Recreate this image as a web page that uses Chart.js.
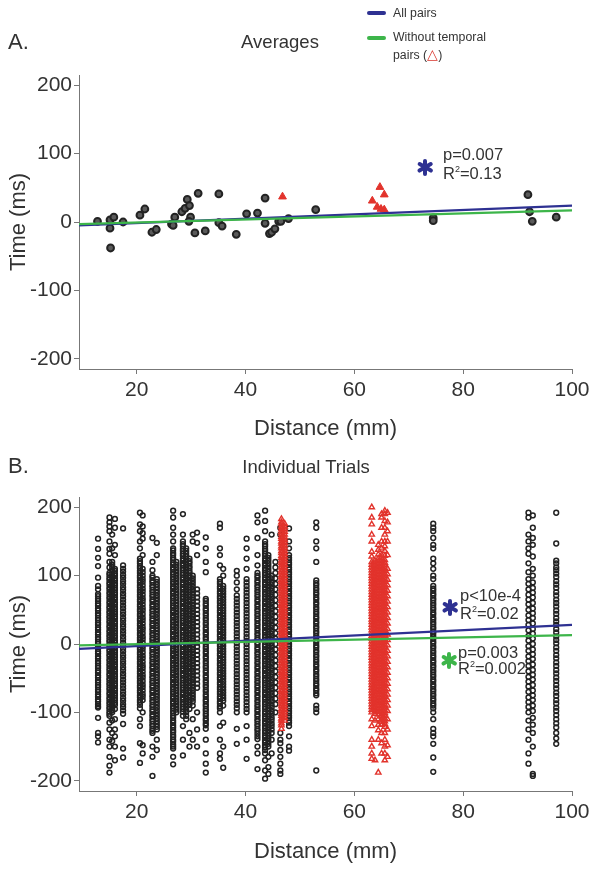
<!DOCTYPE html>
<html><head><meta charset="utf-8">
<script src="https://cdn.jsdelivr.net/npm/chart.js@4.4.0/dist/chart.umd.min.js"></script>
<style>
html,body{margin:0;padding:0;background:#fff;}
body{width:602px;height:870px;position:relative;overflow:hidden;font-family:'Liberation Sans',Arial,Helvetica,sans-serif;color:#333;}
canvas{position:absolute;left:0;}
.t{position:absolute;white-space:nowrap;line-height:1;}
.c{transform:translate(-50%,-50%);}
.l{transform:translateY(-50%);}
.ast{position:absolute;width:0;height:0;}
.ast i{position:absolute;left:-2.2px;top:-8.5px;width:4.4px;height:17px;border-radius:2px;}
.bar{position:absolute;height:4px;border-radius:2px;width:19px;}
sup{font-size:0.55em;vertical-align:0.7em;line-height:0;}
</style></head><body>
<canvas id="ca" width="602" height="450" style="top:0"></canvas>
<canvas id="cb" width="602" height="420" style="top:450px"></canvas>

<div class="t l" style="left:8px;top:42px;font-size:22px;">A.</div>
<div class="t c" style="left:280px;top:42px;font-size:18.5px;">Averages</div>
<div class="bar" style="left:367px;top:11px;background:#2e3192"></div>
<div class="bar" style="left:367px;top:36px;background:#3db54a"></div>
<div class="t l" style="left:393px;top:13px;font-size:12.3px;">All pairs</div>
<div class="t l" style="left:393px;top:37px;font-size:12.3px;">Without temporal</div>
<div class="t l" style="left:393px;top:54px;font-size:12.3px;">pairs (<span style="color:#d8342c;font-size:14px">△</span>)</div>

<div class="ast" style="left:425px;top:167px"><i style="background:#2e3192"></i><i style="background:#2e3192;transform:rotate(60deg)"></i><i style="background:#2e3192;transform:rotate(120deg)"></i></div>
<div class="t l" style="left:443px;top:154px;font-size:16.5px;">p=0.007</div>
<div class="t l" style="left:443px;top:173px;font-size:16.5px;">R<sup>2</sup>=0.13</div>

<div class="t l" style="left:8px;top:466px;font-size:22px;">B.</div>
<div class="t c" style="left:306px;top:467px;font-size:18.5px;">Individual Trials</div>

<div class="ast" style="left:450px;top:607px"><i style="background:#2e3192"></i><i style="background:#2e3192;transform:rotate(60deg)"></i><i style="background:#2e3192;transform:rotate(120deg)"></i></div>
<div class="t l" style="left:460px;top:595px;font-size:16.5px;">p&lt;10e-4</div>
<div class="t l" style="left:460px;top:613px;font-size:16.5px;">R<sup>2</sup>=0.02</div>
<div class="ast" style="left:449px;top:660px"><i style="background:#3db54a"></i><i style="background:#3db54a;transform:rotate(60deg)"></i><i style="background:#3db54a;transform:rotate(120deg)"></i></div>
<div class="t l" style="left:458px;top:652px;font-size:16.5px;">p=0.003</div>
<div class="t l" style="left:458px;top:668px;font-size:16.5px;">R<sup>2</sup>=0.002</div>

<script>
// ---------- axes ----------
const xTicks = [20, 40, 60, 80, 100];
const yTicks = [-200, -100, 0, 100, 200];

// ---------- Panel A: averages ----------
const avgDist = [12.8,15.1,15.1,15.8,15.2,17.5,20.6,21.5,22.8,23.6,26.4,26.7,27.0,28.3,28.9,29.3,29.7,29.9,29.6,30.7,31.3,32.6,35.1,35.1,35.7,38.3,40.2,42.2,43.6,43.6,44.4,44.8,45.4,46.1,46.5,47.9,52.9,74.5,74.5,91.9,92.2,92.7,97.1];
const avgTime = [1,3,-9,7,-38,0,10,19,-15,-11,-3,-5,7,15,20,33,24,7,1,-16,42,-13,41,-1,-6,-18,12,13,35,-2,-17,-15,-10,1,1,5,18,6,2,40,15,1,7];
const avgTempDist = [46.8,63.3,64.2,64.7,64.9,65.5,65.5];
const avgTempTime = [37,31,22,51,19,40,18];

// regression lines (end points)
const fitDist = [9.4, 100];
const fitAllA = [-5, 24];
const fitNoTempA = [-3, 17];
const fitAllB = [-7, 28];
const fitNoTempB = [-2, 13];

// ---------- Panel B: individual trials (one column of trials per electrode-pair distance) ----------
const trialColDist = [12.9,15.0,15.5,16.0,17.5,20.6,21.1,22.9,23.7,26.7,27.3,28.5,29.1,29.7,30.3,31.1,32.7,35.3,35.9,38.4,40.2,42.2,43.6,44.2,44.8,45.5,46.4,48.0,53.0,74.5,92.0,92.8,97.1];
const trialColTimes = [
 [154,139,126,114,97,85,80,73,70,66,63,59,56,52,49,45,42,38,35,31,28,24,21,17,14,10,7,3,0,-4,-7,-11,-14,-18,-21,-25,-28,-32,-35,-39,-42,-46,-49,-53,-56,-60,-63,-67,-70,-74,-77,-81,-84,-88,-91,-93,-108,-130,-135,-144],
 [185,178,172,165,150,139,132,120,112,104,101,97,94,90,87,83,80,76,73,69,66,62,59,55,52,48,45,41,38,34,31,27,24,20,17,13,10,6,3,-1,-4,-8,-11,-15,-18,-22,-25,-29,-32,-36,-39,-43,-46,-50,-53,-57,-60,-64,-67,-71,-74,-78,-81,-85,-88,-92,-95,-99,-102,-105,-115,-125,-140,-150,-165,-178,-188],
 [160,140,120,116,112,108,102,99,95,92,88,85,81,78,74,71,67,64,60,57,53,50,46,43,39,36,32,29,25,22,18,15,11,8,4,1,-3,-6,-10,-13,-17,-20,-24,-27,-31,-34,-38,-41,-45,-48,-52,-55,-59,-62,-66,-69,-73,-76,-80,-83,-87,-90,-94,-97,-100,-112,-130,-142],
 [183,170,145,130,110,107,103,100,96,93,89,86,82,79,75,72,68,65,61,58,54,51,47,44,40,37,33,30,26,23,19,16,12,9,5,2,-2,-5,-9,-12,-16,-19,-23,-26,-30,-33,-37,-40,-44,-47,-51,-54,-58,-61,-65,-68,-72,-75,-79,-82,-86,-89,-95,-110,-125,-135,-150,-170],
 [169,115,110,106,101,97,92,88,83,79,74,70,65,61,56,52,47,43,38,34,29,25,20,16,11,7,2,-2,-7,-11,-16,-20,-25,-29,-34,-38,-43,-47,-52,-56,-61,-65,-70,-74,-79,-83,-88,-92,-97,-102,-117,-153,-166],
 [192,175,165,150,140,125,121,118,114,111,107,104,100,97,93,90,86,83,79,76,72,69,65,62,58,55,51,48,44,41,37,34,30,27,23,20,16,13,9,6,2,-1,-5,-8,-12,-15,-19,-22,-26,-29,-33,-36,-40,-43,-47,-50,-54,-57,-61,-64,-68,-71,-75,-78,-82,-85,-89,-94,-110,-120,-145,-174],
 [188,172,162,154,130,110,105,100,95,91,86,81,77,72,67,63,58,53,49,44,39,35,30,25,21,16,11,7,2,-3,-7,-12,-17,-21,-26,-31,-35,-40,-45,-49,-54,-59,-63,-68,-73,-77,-82,-100,-148,-160],
 [155,120,108,100,97,93,90,86,83,79,76,72,69,65,62,58,55,51,48,44,41,37,34,30,27,23,20,16,13,9,6,2,-1,-5,-8,-12,-15,-19,-22,-26,-29,-33,-36,-40,-43,-47,-50,-54,-57,-61,-64,-68,-71,-75,-78,-82,-85,-89,-92,-96,-99,-103,-106,-110,-113,-117,-120,-124,-127,-130,-150,-165,-193],
 [148,130,95,91,87,83,79,75,71,67,63,59,55,51,47,43,39,35,31,27,23,19,15,11,7,3,-1,-5,-9,-13,-17,-21,-25,-29,-33,-37,-41,-45,-49,-53,-57,-61,-65,-69,-73,-77,-81,-85,-89,-93,-97,-101,-105,-109,-113,-117,-121,-125,-140,-155],
 [195,185,170,160,150,140,137,133,130,126,123,119,116,112,109,105,102,98,95,91,88,84,81,77,74,70,67,63,60,56,53,49,46,42,39,35,32,28,25,21,18,14,11,7,4,0,-3,-7,-10,-14,-17,-21,-24,-28,-31,-35,-38,-42,-45,-49,-52,-56,-59,-63,-66,-70,-73,-77,-80,-84,-87,-91,-94,-98,-101,-105,-108,-112,-115,-119,-122,-126,-129,-133,-136,-140,-143,-147,-150,-153,-165,-176],
 [120,116,112,108,104,100,96,92,88,84,80,76,72,68,64,60,56,52,48,44,40,36,32,28,24,20,16,12,8,4,0,-4,-8,-12,-16,-20,-24,-28,-32,-36,-40,-44,-48,-52,-56,-60,-64,-68,-72,-76,-80,-84,-88,-92,-96,-100],
 [190,160,150,146,143,139,136,132,129,125,122,118,115,111,108,104,101,97,94,90,87,83,80,76,73,69,66,62,59,55,52,48,45,41,38,34,31,27,24,20,17,13,10,6,3,-1,-4,-8,-11,-15,-18,-22,-25,-29,-32,-36,-39,-43,-46,-50,-53,-57,-60,-64,-67,-71,-74,-78,-81,-85,-88,-92,-95,-99,-105,-120,-140,-163],
 [140,136,132,128,124,120,116,112,108,104,100,96,92,88,84,80,76,72,68,64,60,56,52,48,44,40,36,32,28,24,20,16,12,8,4,0,-4,-8,-12,-16,-20,-24,-28,-32,-36,-40,-44,-48,-52,-56,-60,-64,-68,-72,-76,-80,-84,-88,-92,-96,-100,-105,-110],
 [125,121,118,114,111,107,104,100,97,93,90,86,83,79,76,72,69,65,62,58,55,51,48,44,41,37,34,30,27,23,20,16,13,9,6,2,-1,-5,-8,-12,-15,-19,-22,-26,-29,-33,-36,-40,-43,-47,-50,-54,-57,-61,-64,-68,-71,-75,-78,-82,-85,-89,-95,-130,-150],
 [160,150,100,96,92,88,84,80,76,72,68,64,60,56,52,48,44,40,36,32,28,24,20,16,12,8,4,0,-4,-8,-12,-16,-20,-24,-28,-32,-36,-40,-44,-48,-52,-56,-60,-64,-68,-72,-76,-80,-84,-90,-110,-140],
 [163,148,130,80,74,68,62,56,50,44,38,32,26,20,14,8,2,-4,-10,-16,-22,-28,-34,-40,-46,-52,-58,-64,-100,-125,-150],
 [156,140,120,105,66,63,59,56,52,49,45,42,38,35,31,28,24,21,17,14,10,7,3,0,-4,-7,-11,-14,-18,-21,-25,-28,-32,-35,-39,-42,-46,-49,-53,-56,-60,-63,-67,-70,-74,-77,-81,-84,-88,-91,-95,-98,-102,-105,-109,-112,-116,-119,-124,-140,-160,-175,-188],
 [176,170,140,130,115,95,91,88,84,81,77,74,70,67,63,60,56,53,49,46,42,39,35,32,28,25,21,18,14,11,7,4,0,-3,-7,-10,-14,-17,-21,-24,-28,-31,-35,-38,-42,-45,-49,-52,-56,-59,-63,-66,-70,-73,-77,-80,-84,-87,-91,-94,-100,-120,-140,-160,-168],
 [110,100,85,81,77,73,69,65,61,57,53,49,45,41,37,33,29,25,21,17,13,9,5,1,-3,-7,-11,-15,-19,-23,-27,-31,-35,-39,-43,-47,-51,-55,-59,-63,-67,-71,-75,-79,-83,-90,-115,-150,-181],
 [107,100,90,80,71,66,61,56,51,46,41,36,31,26,21,16,11,6,1,-4,-9,-14,-19,-24,-29,-34,-39,-44,-49,-54,-59,-64,-69,-74,-79,-84,-89,-94,-100,-124,-146],
 [154,140,125,110,95,90,85,80,75,70,65,60,55,50,45,40,35,30,25,20,15,10,5,0,-5,-10,-15,-20,-25,-30,-35,-40,-45,-50,-55,-60,-65,-70,-75,-80,-85,-90,-95,-100,-120,-140,-168],
 [188,178,155,130,115,104,100,97,93,90,86,83,79,76,72,69,65,62,58,55,51,48,44,41,37,34,30,27,23,20,16,13,9,6,2,-1,-5,-8,-12,-15,-19,-22,-26,-29,-33,-36,-40,-43,-47,-50,-54,-57,-61,-64,-68,-71,-75,-78,-82,-85,-89,-92,-96,-99,-103,-106,-110,-113,-117,-120,-124,-127,-131,-135,-139,-150,-160,-183],
 [195,180,165,150,146,143,139,136,132,129,125,122,118,115,111,108,104,101,97,94,90,87,83,80,76,73,69,66,62,59,55,52,48,45,41,38,34,31,27,24,20,17,13,10,6,3,-1,-4,-8,-11,-15,-18,-22,-25,-29,-32,-36,-39,-43,-46,-50,-53,-57,-60,-64,-67,-71,-74,-78,-81,-85,-88,-92,-95,-99,-102,-106,-109,-113,-116,-120,-123,-127,-130,-134,-137,-141,-144,-148,-151,-155,-160,-170,-185,-197],
 [130,126,122,118,114,110,106,102,98,94,90,86,82,78,74,70,66,62,58,54,50,46,42,38,34,30,26,22,18,14,10,6,2,-2,-6,-10,-14,-18,-22,-26,-30,-34,-38,-42,-46,-50,-54,-58,-62,-66,-70,-74,-78,-82,-86,-90,-94,-98,-102,-106,-110,-114,-118,-122,-126,-130,-134,-138,-142,-146,-150,-165,-180,-190],
 [160,100,96,91,87,82,78,73,69,64,60,55,51,46,42,37,33,28,24,19,15,10,6,1,-3,-8,-12,-17,-21,-26,-30,-35,-39,-44,-48,-53,-57,-62,-66,-71,-75,-80,-84,-89,-93,-98,-102,-107,-111,-116,-120,-125,-130,-140,-160],
 [120,112,104,96,88,80,72,64,56,48,40,32,24,16,8,0,-8,-16,-24,-32,-40,-48,-56,-64,-72,-80,-88,-100],
 [170,160,-130,-140,-145,-155,-165,-175,-185,-190],
 [169,150,140,130,126,123,119,116,112,109,105,102,98,95,91,88,84,81,77,74,70,67,63,60,56,53,49,46,42,39,35,32,28,25,21,18,14,11,7,4,0,-3,-7,-10,-14,-17,-21,-24,-28,-31,-35,-38,-42,-45,-49,-52,-56,-59,-63,-66,-70,-73,-77,-80,-84,-87,-91,-94,-98,-101,-105,-108,-112,-115,-120,-135,-150,-156],
 [178,170,150,140,120,93,89,86,82,79,75,72,68,65,61,58,54,51,47,44,40,37,33,30,26,23,19,16,12,9,5,2,-2,-5,-9,-12,-16,-19,-23,-26,-30,-33,-37,-40,-44,-47,-51,-54,-58,-61,-65,-68,-72,-75,-90,-95,-100,-185],
 [176,170,165,155,145,140,125,118,110,100,95,85,81,78,74,71,67,64,60,57,53,50,46,43,39,36,32,29,25,22,18,15,11,8,4,1,-3,-6,-10,-13,-17,-20,-24,-27,-31,-34,-38,-41,-45,-48,-52,-55,-59,-62,-66,-69,-73,-76,-80,-83,-87,-90,-94,-100,-110,-124,-130,-135,-146,-166,-187],
 [192,185,160,150,140,132,118,105,95,88,80,72,65,58,50,42,35,28,20,12,5,-3,-10,-18,-25,-32,-40,-48,-55,-62,-70,-78,-85,-92,-100,-112,-125,-140,-160,-175],
 [188,170,155,145,128,110,100,90,82,75,68,60,52,45,38,30,22,15,8,0,-8,-15,-22,-30,-38,-45,-52,-60,-68,-75,-82,-90,-98,-108,-118,-130,-150,-190,-193],
 [192,147,122,118,112,108,103,98,92,87,82,76,71,65,60,55,49,44,38,33,28,22,17,11,6,1,-5,-10,-16,-21,-27,-32,-38,-43,-49,-54,-60,-65,-71,-76,-82,-87,-93,-98,-104,-110,-116,-122,-130,-138,-146]
];
// temporal pairs (red triangles)
const tempColDist = [46.6,47.2,63.2,63.8,64.4,65.0,65.6,66.1];
const tempColTimes = [
 [183,178,175,171,168,164,161,157,154,150,147,143,140,136,133,129,126,122,119,115,112,108,105,101,98,94,91,87,84,80,77,73,70,66,63,59,56,52,49,45,42,38,35,31,28,24,21,17,14,10,7,3,0,-4,-7,-11,-14,-18,-21,-25,-28,-32,-35,-39,-42,-46,-49,-53,-56,-60,-63,-67,-70,-74,-77,-81,-84,-88,-91,-95,-98,-102,-105,-109,-112,-116,-119,-124],
 [176,172,168,164,160,156,152,148,144,140,136,132,128,124,120,116,112,108,104,100,96,92,88,84,80,76,72,68,64,60,56,52,48,44,40,36,32,28,24,20,16,12,8,4,0,-4,-8,-12,-16,-20,-24,-28,-32,-36,-40,-44,-48,-52,-56,-60,-64,-68,-72,-76,-80,-84,-88,-92,-96,-100,-104,-108,-112],
 [200,185,175,160,150,135,128,120,116,112,108,104,100,96,92,88,84,80,76,72,68,64,60,56,52,48,44,40,36,32,28,24,20,16,12,8,4,0,-4,-8,-12,-16,-20,-24,-28,-32,-36,-40,-44,-48,-52,-56,-60,-64,-68,-72,-76,-80,-84,-88,-92,-96,-100,-110,-120,-140,-150,-160,-168],
 [122,118,114,110,106,102,98,94,90,86,82,78,74,70,66,62,58,54,50,46,42,38,34,30,26,22,18,14,10,6,2,-2,-6,-10,-14,-18,-22,-26,-30,-34,-38,-42,-46,-50,-54,-58,-62,-66,-70,-74,-78,-82,-86,-90,-94,-98,-102,-112,-170],
 [145,138,131,125,121,117,113,109,105,101,97,93,89,85,81,77,73,69,65,61,57,53,49,45,41,37,33,29,25,21,17,13,9,5,1,-3,-7,-11,-15,-19,-23,-27,-31,-35,-39,-43,-47,-51,-55,-59,-63,-67,-71,-75,-79,-83,-87,-91,-95,-99,-103,-110,-118,-126,-140,-188],
 [190,185,170,150,140,130,126,122,118,114,110,106,102,98,94,90,86,82,78,74,70,66,62,58,54,50,46,42,38,34,30,26,22,18,14,10,6,2,-2,-6,-10,-14,-18,-22,-26,-30,-34,-38,-42,-46,-50,-54,-58,-62,-66,-70,-74,-78,-82,-86,-90,-94,-98,-102,-106,-110,-114,-118,-130,-145,-160],
 [195,190,180,170,160,150,143,136,129,123,119,115,111,107,103,99,95,91,87,83,79,75,71,67,63,59,55,51,47,43,39,35,31,27,23,19,15,11,7,3,-1,-5,-9,-13,-17,-21,-25,-29,-33,-37,-41,-45,-49,-53,-57,-61,-65,-69,-73,-77,-81,-85,-89,-93,-97,-101,-105,-109,-113,-117,-121,-130,-140,-150,-160,-170],
 [192,178,165,150,130,110,102,94,86,78,70,62,54,46,38,30,22,14,6,-2,-10,-18,-26,-34,-42,-50,-58,-66,-74,-82,-90,-98,-110,-125,-148,-165]
];

// ---------- build ----------
const BLUE = '#2e3192', GREEN = '#3db54a', RED = '#e2332c', INK = '#333333', AXIS = '#777777';
Chart.defaults.font.family = "'Liberation Sans', Arial, Helvetica, sans-serif";
Chart.defaults.color = INK;

function pts(xs, ys) { return xs.map((x, i) => ({x: x, y: ys[i]})); }
function colPts(xs, cols) { const out = []; xs.forEach((x, i) => cols[i].forEach(y => out.push({x: x, y: y}))); return out; }
function fitLine(vals, color, order) {
  return {type: 'line', data: pts(fitDist, vals), borderColor: color, borderWidth: 2.2, pointRadius: 0, fill: false, showLine: true, order: order};
}
function scales(xh, tpb) {
  const grid = {display: true, drawOnChartArea: false, drawTicks: true, tickLength: 5, color: AXIS, lineWidth: 1};
  const border = {display: true, color: AXIS, width: 1};
  return {
    x: {type: 'linear', min: 9.4, max: 100,
        afterBuildTicks: s => { s.ticks = xTicks.map(v => ({value: v})); },
        afterFit: s => { s.height = xh; },
        grid: grid, border: border,
        ticks: {font: {size: 21}, color: INK, padding: 4, maxRotation: 0, autoSkip: false},
        title: {display: true, text: 'Distance (mm)', font: {size: 22}, color: INK, padding: {top: 0, bottom: tpb}}},
    y: {type: 'linear', min: -215, max: 215,
        afterBuildTicks: s => { s.ticks = yTicks.map(v => ({value: v})); },
        afterFit: s => { s.width = 79; },
        grid: grid, border: border,
        ticks: {font: {size: 21}, color: INK, padding: 2, autoSkip: false},
        title: {display: true, text: 'Time (ms)', font: {size: 22}, color: INK, padding: {top: 6, bottom: 0}}}
  };
}
function baseOpts(top, xh, tpb) {
  return {responsive: false, animation: false, events: [],
    layout: {padding: {top: top, right: 30, left: 0, bottom: 0}},
    plugins: {legend: {display: false}, tooltip: {enabled: false}},
    scales: scales(xh, tpb)};
}

new Chart(document.getElementById('ca'), {
  type: 'scatter',
  data: {datasets: [
    fitLine(fitNoTempA, GREEN, 0),
    fitLine(fitAllA, BLUE, 1),
    {data: pts(avgTempDist, avgTempTime), pointStyle: 'triangle', pointRadius: 4.5, backgroundColor: RED, borderColor: RED, borderWidth: 1, order: 2},
    {data: pts(avgDist, avgTime), pointStyle: 'circle', pointRadius: 3.4, backgroundColor: '#5a5a5a', borderColor: '#232323', borderWidth: 2, order: 3}
  ]},
  options: baseOpts(75, 81, 8)
});

new Chart(document.getElementById('cb'), {
  type: 'scatter',
  data: {datasets: [
    fitLine(fitNoTempB, GREEN, 0),
    fitLine(fitAllB, BLUE, 1),
    {data: colPts(tempColDist, tempColTimes), pointStyle: 'triangle', pointRadius: 3.1, backgroundColor: 'rgba(0,0,0,0)', borderColor: RED, borderWidth: 1.4, order: 2},
    {data: colPts(trialColDist, trialColTimes), pointStyle: 'circle', pointRadius: 2.4, backgroundColor: 'rgba(0,0,0,0)', borderColor: '#222222', borderWidth: 1.5, order: 3}
  ]},
  options: baseOpts(47, 79, 5)
});
</script>
</body></html>
